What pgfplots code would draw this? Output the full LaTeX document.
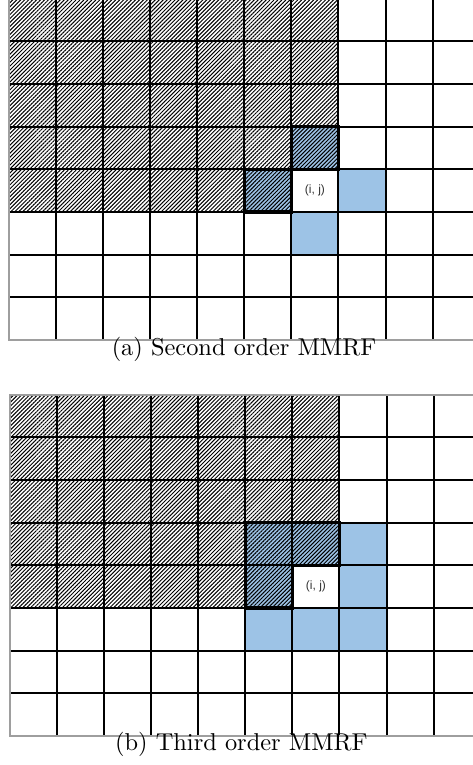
\documentclass[border=0pt]{standalone}
\usepackage{pgfplots}
\pgfplotsset{compat=1.18}
\usepackage{fontspec}
\newfontfamily\arialfont{Liberation Sans}
\usetikzlibrary{patterns.meta}
\definecolor{cellblue}{HTML}{9DC3E6}
\pgfplotsset{
  gridax/.style={
    scale only axis, x=35.3pt, y=32pt,
    xmin=0, xmax=10, ymin=0, ymax=8,
    xtick={1,...,9}, ytick={1,...,7},
    xticklabels={}, yticklabels={},
    tick style={draw=none},
    grid=major,
    major grid style={draw=black, line width=1.5pt},
    axis line style={draw=black!38, line width=1.5pt},
    axis on top,
    clip=false,
  },
  hatch/.style={draw=none, pattern={Lines[angle=45,distance=2.1pt,line width=0.75pt]}, pattern color=black},
  bluecell/.style={draw=none, fill=cellblue},
  thick outline/.style={draw=black, line width=2.4pt},
}
\begin{document}
\begin{tikzpicture}
\useasboundingbox (0,0) rectangle (354pt,573.75pt);
% ---------- (a) Second order ----------
\begin{axis}[gridax, at={(6.75pt,318.75pt)}, anchor=south west]
  \addplot[bluecell] coordinates {(7,3) (8,3) (8,4) (7,4)} -- cycle;
  \addplot[bluecell] coordinates {(6,2) (7,2) (7,3) (6,3)} -- cycle;
  \addplot[bluecell] coordinates {(6,4) (7,4) (7,5) (6,5)} -- cycle;
  \addplot[bluecell] coordinates {(5,3) (6,3) (6,4) (5,4)} -- cycle;
  \addplot[hatch] coordinates {(0,3) (6,3) (6,4) (7,4) (7,8) (0,8)} -- cycle;
  \addplot[thick outline] coordinates {(6,4) (7,4) (7,5) (6,5)} -- cycle;
  \addplot[thick outline] coordinates {(5,3) (6,3) (6,4) (5,4)} -- cycle;
  \node[font=\arialfont\fontsize{9}{10}\selectfont, text=black!80] at (axis cs:6.5,3.5) {(i, j)};
\end{axis}
% ---------- (b) Third order ----------
\begin{axis}[gridax, at={(7.5pt,21.75pt)}, anchor=south west]
  \addplot[bluecell] coordinates {(5,2) (8,2) (8,5) (7,5) (7,3) (5,3)} -- cycle;
  \addplot[bluecell] coordinates {(5,3) (6,3) (6,4) (7,4) (7,5) (5,5)} -- cycle;
  \addplot[hatch] coordinates {(0,3) (6,3) (6,4) (7,4) (7,8) (0,8)} -- cycle;
  \addplot[thick outline] coordinates {(5,3) (6,3) (6,4) (7,4) (7,5) (5,5)} -- cycle;
  \node[font=\arialfont\fontsize{9}{10}\selectfont, text=black!80] at (axis cs:6.5,3.5) {(i, j)};
\end{axis}
\node[anchor=base, scale=1.83, inner sep=0pt] at (183pt,306.75pt) {(a) Second order MMRF};
\node[anchor=base, scale=1.83, inner sep=0pt] at (181pt,10.75pt) {(b) Third order MMRF};
\end{tikzpicture}
\end{document}
